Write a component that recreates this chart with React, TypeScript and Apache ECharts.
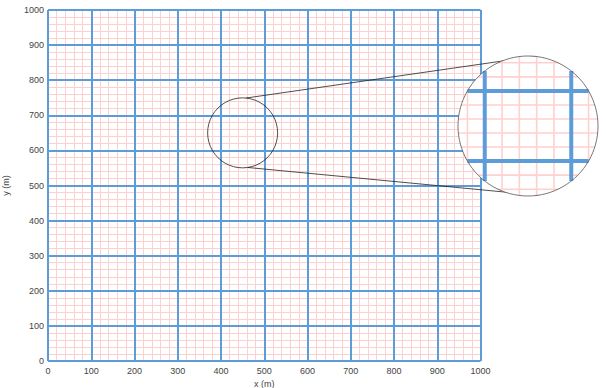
import React, { useEffect, useRef } from "react";
import * as echarts from "echarts";

// Axis ranges and tick values (metres)
const X_TICKS = [0, 100, 200, 300, 400, 500, 600, 700, 800, 900, 1000];
const Y_TICKS = [0, 100, 200, 300, 400, 500, 600, 700, 800, 900, 1000];
const MINOR_SPLITS = 5; // 20 m minor grid
// Point of interest that the magnifier looks at (metres)
const ZOOM_CENTER = [450, 650];

const MAJOR = "#5d9cd8";
const MINOR = "#ffd0d0";
const TEXT = "#444";
const FONT = "'Liberation Sans', Arial, sans-serif";

// Magnifier layout (pixels)
const MAG = 2;
const INSET = { x: 528, y: 126, r: 70 };

function allLines(ticks: number[]) {
  const out: { v: number; major: boolean }[] = [];
  for (let i = 0; i < ticks.length; i++) {
    out.push({ v: ticks[i], major: true });
    if (i < ticks.length - 1) {
      const step = (ticks[i + 1] - ticks[i]) / MINOR_SPLITS;
      for (let k = 1; k < MINOR_SPLITS; k++) out.push({ v: ticks[i] + k * step, major: false });
    }
  }
  return out;
}

export default function App() {
  const ref = useRef<HTMLDivElement>(null);
  useEffect(() => {
    const chart = echarts.init(ref.current!, undefined, { renderer: "svg" });
    const xMin = X_TICKS[0], xMax = X_TICKS[X_TICKS.length - 1];
    const yMin = Y_TICKS[0], yMax = Y_TICKS[Y_TICKS.length - 1];
    const interval = X_TICKS[1] - X_TICKS[0];

    const labelStyle = { color: TEXT, fontSize: 9, fontFamily: FONT };
    const plain = (v: number) => String(v);

    const renderItem = (params: any, api: any) => {
      const c = api.coord(ZOOM_CENTER);
      const rSmall = INSET.r / MAG;
      const R = INSET.r;
      const minorEls: any[] = [];
      const majorEls: any[] = [];

      for (const l of allLines(X_TICKS)) {
        const px = api.coord([l.v, ZOOM_CENTER[1]])[0];
        const dx = (px - c[0]) * MAG;
        if (Math.abs(dx) >= R) continue;
        const h = Math.sqrt(R * R - dx * dx);
        const el = {
          type: "line",
          shape: { x1: INSET.x + dx, y1: INSET.y - h, x2: INSET.x + dx, y2: INSET.y + h },
          style: { stroke: l.major ? MAJOR : MINOR, lineWidth: l.major ? 4 : 1.6 },
        };
        (l.major ? majorEls : minorEls).push(el);
      }
      for (const l of allLines(Y_TICKS)) {
        const py = api.coord([ZOOM_CENTER[0], l.v])[1];
        const dy = (py - c[1]) * MAG;
        if (Math.abs(dy) >= R) continue;
        const w = Math.sqrt(R * R - dy * dy);
        const el = {
          type: "line",
          shape: { x1: INSET.x - w, y1: INSET.y + dy, x2: INSET.x + w, y2: INSET.y + dy },
          style: { stroke: l.major ? MAJOR : MINOR, lineWidth: l.major ? 4 : 1.6 },
        };
        (l.major ? majorEls : minorEls).push(el);
      }

      // External tangents joining the lens to the magnified view
      const ddx = INSET.x - c[0], ddy = INSET.y - c[1];
      const D = Math.hypot(ddx, ddy);
      const ux = ddx / D, uy = ddy / D;
      const th = Math.acos((R - rSmall) / D);
      const tangents: any[] = [];
      for (const s of [1, -1]) {
        const a = s * th;
        const nx = ux * Math.cos(a) - uy * Math.sin(a);
        const ny = ux * Math.sin(a) + uy * Math.cos(a);
        tangents.push({
          type: "line",
          shape: {
            x1: c[0] + rSmall * nx, y1: c[1] + rSmall * ny,
            x2: INSET.x + R * nx, y2: INSET.y + R * ny,
          },
          style: { stroke: "#222", lineWidth: 0.8 },
        });
      }

      return {
        type: "group",
        children: [
          ...tangents,
          { type: "circle", shape: { cx: c[0], cy: c[1], r: rSmall }, style: { fill: "none", stroke: "#222", lineWidth: 0.8 } },
          { type: "circle", shape: { cx: INSET.x, cy: INSET.y, r: R }, style: { fill: "#fff", stroke: "none" } },
          ...minorEls,
          ...majorEls,
          { type: "circle", shape: { cx: INSET.x, cy: INSET.y, r: R }, style: { fill: "none", stroke: "#555", lineWidth: 0.8 } },
        ],
      };
    };

    chart.setOption({
      animation: false,
      grid: { left: 48, right: 125.5, top: 10, bottom: 27, containLabel: false, outerBoundsMode: "none" },
      xAxis: [
        {
          type: "value", min: xMin, max: xMax, interval, position: "bottom", z: 1,
          name: "x (m)", nameLocation: "middle", nameGap: 14,
          nameTextStyle: labelStyle,
          axisLine: { show: false }, axisTick: { show: false },
          axisLabel: { ...labelStyle, margin: 5, formatter: plain },
          splitLine: { show: true, lineStyle: { color: MAJOR, width: 2 } },
        },
        {
          type: "value", min: xMin, max: xMax, interval, position: "top", z: 0,
          axisLine: { show: false }, axisTick: { show: false }, axisLabel: { show: false },
          splitLine: { show: false },
          minorTick: { show: false, splitNumber: MINOR_SPLITS },
          minorSplitLine: { show: true, lineStyle: { color: MINOR, width: 1 } },
        },
      ],
      yAxis: [
        {
          type: "value", min: yMin, max: yMax, interval, position: "left", z: 1,
          name: "y (m)", nameLocation: "middle", nameGap: 38,
          nameTextStyle: labelStyle,
          axisLine: { show: false }, axisTick: { show: false },
          axisLabel: { ...labelStyle, margin: 4, formatter: plain },
          splitLine: { show: true, lineStyle: { color: MAJOR, width: 2 } },
        },
        {
          type: "value", min: yMin, max: yMax, interval, position: "right", z: 0,
          axisLine: { show: false }, axisTick: { show: false }, axisLabel: { show: false },
          splitLine: { show: false },
          minorTick: { show: false, splitNumber: MINOR_SPLITS },
          minorSplitLine: { show: true, lineStyle: { color: MINOR, width: 1 } },
        },
      ],
      series: [
        {
          type: "custom",
          xAxisIndex: 0,
          yAxisIndex: 0,
          clip: false,
          z: 5,
          data: [ZOOM_CENTER],
          renderItem,
        },
      ],
    });
    return () => chart.dispose();
  }, []);
  return (
    <div
      ref={ref}
      style={{ position: "absolute", left: 0, top: 0, width: 606, height: 388, background: "#fff" }}
    />
  );
}
